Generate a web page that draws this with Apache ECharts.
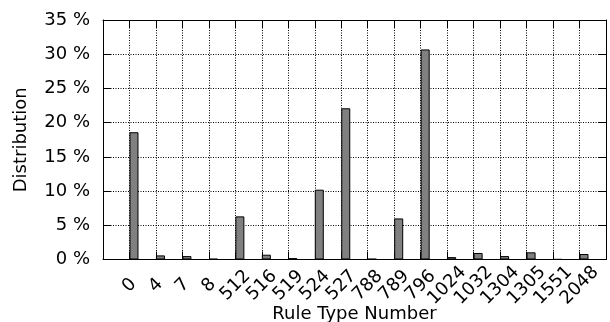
<!DOCTYPE html>
<html>
<head>
<meta charset="utf-8">
<script src="https://cdn.jsdelivr.net/npm/echarts@6/dist/echarts.min.js"></script>
<style>html,body{margin:0;padding:0;background:#fff}#c{width:610px;height:322px}</style>
</head>
<body>
<div id="c"></div>
<script>
const categories = ['0','4','7','8','512','516','519','524','527','788','789','796','1024','1032','1304','1305','1551','2048'];
const distribution = [18.6, 0.6, 0.5, 0.1, 6.3, 0.7, 0.2, 10.2, 22.1, 0.1, 6.0, 30.7, 0.35, 0.95, 0.5, 1.05, 0.03, 0.8];
const yTicks = [0, 5, 10, 15, 20, 25, 30, 35];

const font = 'DejaVu Sans';
const fs = 18;
const dotted = { show: true, lineStyle: { color: '#000', type: [1, 1.5], width: 1 } };
const axisLine = { show: true, onZero: false, lineStyle: { color: '#000', width: 1 } };
const tick = { show: true, inside: true, length: 8, lineStyle: { color: '#000' } };

const chart = echarts.init(document.getElementById('c'), null, { renderer: 'canvas' });
chart.setOption({
  animation: false,
  textStyle: { fontFamily: font },
  grid: { left: 103, right: 4, top: 20, bottom: 62.5, containLabel: false, outerBoundsMode: 'none' },
  xAxis: [{
    type: 'value', min: -1, max: categories.length, interval: 1,
    axisLine, axisTick: tick, splitLine: dotted,
    axisLabel: {
      rotate: 45, margin: 26, align: 'center', verticalAlign: 'middle', color: '#000', fontSize: fs, fontFamily: font,
      formatter: v => (v >= 0 && v < categories.length) ? categories[v] : ''
    },
    name: 'Rule Type Number', nameLocation: 'middle', nameGap: 46, nameMoveOverlap: false,
    nameTextStyle: { color: '#000', fontSize: fs, fontFamily: font }
  }, {
    type: 'value', position: 'top', min: -1, max: categories.length, interval: 1,
    axisLine, axisTick: tick, splitLine: { show: false }, axisLabel: { show: false }
  }],
  yAxis: [{
    type: 'value', min: yTicks[0], max: yTicks[yTicks.length - 1], interval: 5,
    axisLine, axisTick: tick, splitLine: dotted,
    axisLabel: { margin: 13, color: '#000', fontSize: fs, fontFamily: font, formatter: v => v + ' %' },
    name: 'Distribution', nameLocation: 'middle', nameGap: 73, nameRotate: 90, nameMoveOverlap: false,
    nameTextStyle: { color: '#000', fontSize: fs, fontFamily: font }
  }, {
    type: 'value', position: 'right', min: yTicks[0], max: yTicks[yTicks.length - 1], interval: 5,
    axisLine, axisTick: tick, splitLine: { show: false }, axisLabel: { show: false }
  }],
  series: [{
    type: 'bar', name: 'spacer', data: [], barWidth: 9, barGap: '0%', xAxisIndex: 0, yAxisIndex: 0
  }, {
    type: 'bar', name: 'Distribution', barWidth: 9, barGap: '0%', xAxisIndex: 0, yAxisIndex: 0,
    data: distribution.map((v, i) => [i, v]),
    itemStyle: { color: '#808080', borderColor: '#000', borderWidth: 1 }
  }]
});
</script>
</body>
</html>
